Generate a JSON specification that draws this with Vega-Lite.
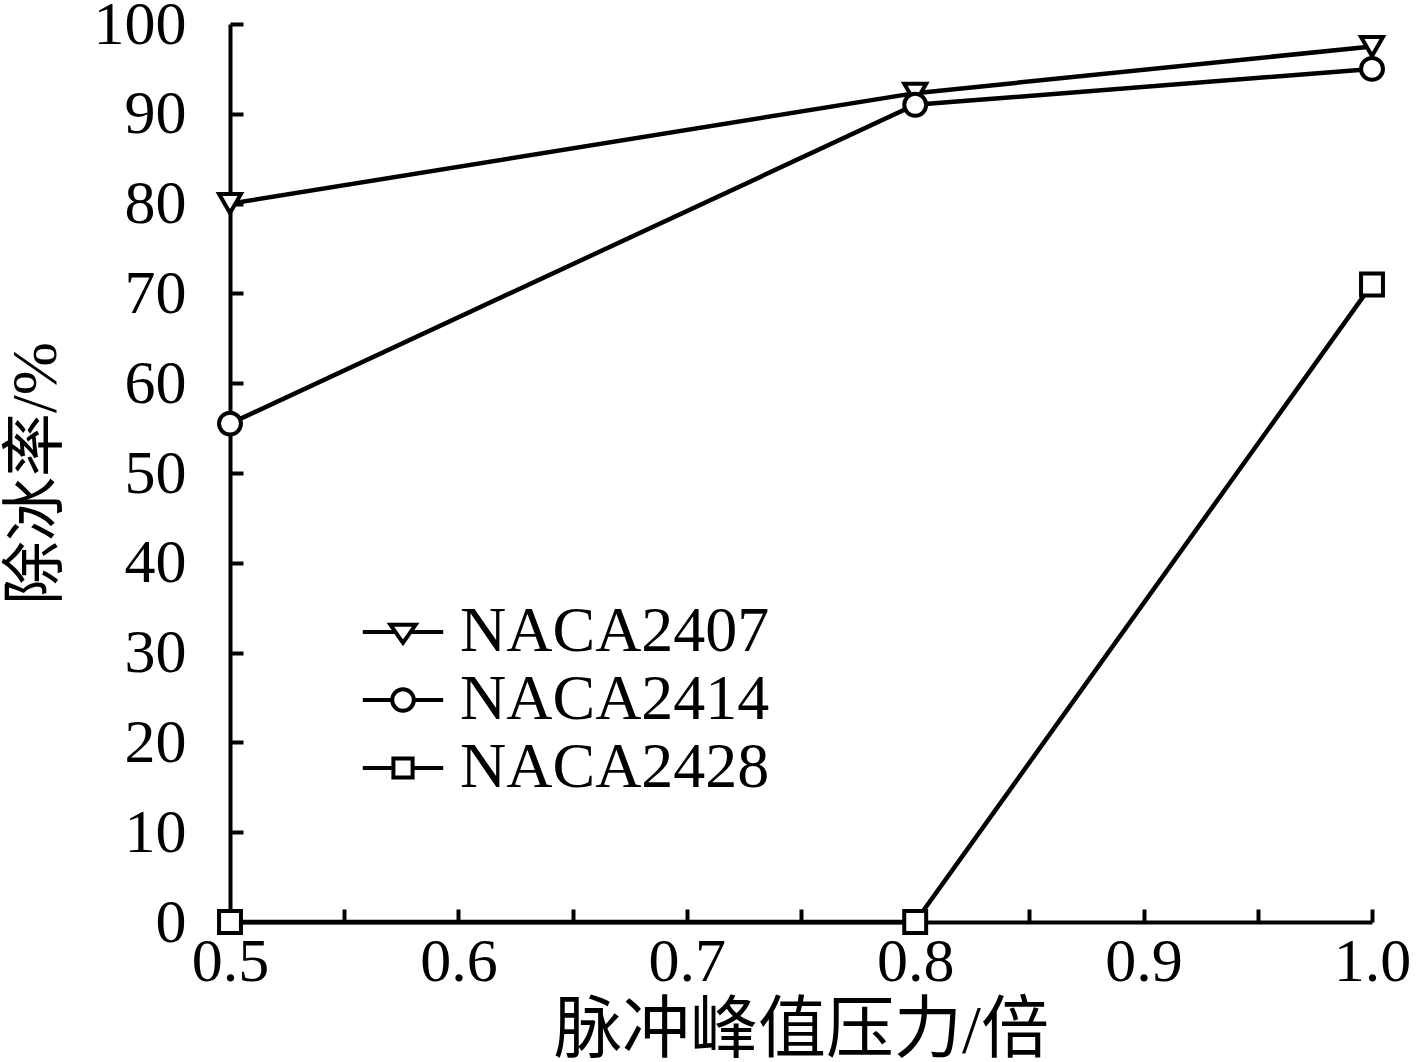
{
  "$schema": "https://vega.github.io/schema/vega-lite/v6.json",
  "autosize": "none",
  "width": 1142,
  "height": 898,
  "padding": {"left": 230, "top": 24, "right": 45, "bottom": 140},
  "background": "white",
  "config": {
    "view": {"stroke": null},
    "font": "Liberation Serif",
    "axis": {
      "domainColor": "black", "domainWidth": 4, "tickColor": "black", "tickWidth": 4,
      "tickSize": -13, "grid": false, "labelColor": "black", "titleColor": "black",
      "labelFont": "Liberation Serif", "labelFontSize": 62, "titleFont": "Liberation Serif, Noto Sans CJK SC",
      "titleFontWeight": "normal", "titleFontSize": 64, "labelFlush": false, "labelOverlap": false, "labelBound": false
    }
  },
  "data": {"values": [
    {"x": 0.5, "y": 80, "series": "NACA2407"},
    {"x": 0.8, "y": 92.3, "series": "NACA2407"},
    {"x": 1.0, "y": 97.5, "series": "NACA2407"},
    {"x": 0.5, "y": 55.5, "series": "NACA2414"},
    {"x": 0.8, "y": 91, "series": "NACA2414"},
    {"x": 1.0, "y": 95, "series": "NACA2414"},
    {"x": 0.5, "y": 0, "series": "NACA2428"},
    {"x": 0.8, "y": 0, "series": "NACA2428"},
    {"x": 1.0, "y": 71, "series": "NACA2428"}
  ]},
  "encoding": {
    "x": {"field": "x", "type": "quantitative", "scale": {"domain": [0.5, 1.0], "nice": false, "zero": false},
      "axis": {"title": "脉冲峰值压力/倍", "values": [0.5,0.55,0.6,0.65,0.7,0.75,0.8,0.85,0.9,0.95,1.0],
        "labelExpr": "abs(datum.value*10 - round(datum.value*10)) < 0.01 ? format(datum.value, '.1f') : ''",
        "labelPadding": 22, "titlePadding": 5, "titleFontSize": 68}},
    "y": {"field": "y", "type": "quantitative", "scale": {"domain": [0, 100], "nice": false},
      "axis": {"title": "除冰率/%", "values": [0,10,20,30,40,50,60,70,80,90,100], "labelPadding": 57,
        "titleX": -194, "titleY": 449, "titleAngle": -90, "titleBaseline": "middle", "titleAlign": "center"}}
  },
  "layer": [
    {"mark": {"type": "line", "color": "black", "strokeWidth": 4.5}, "encoding": {"detail": {"field": "series"}}},
    {"mark": {"type": "point", "filled": true, "fill": "white", "stroke": "black", "strokeWidth": 4, "size": 480, "opacity": 1},
      "encoding": {"shape": {"field": "series", "type": "nominal", "legend": null,
        "scale": {"domain": ["NACA2407", "NACA2414", "NACA2428"], "range": ["triangle-down", "circle", "square"]}}}},
    {"transform": [{"filter": "false"}],
      "mark": {"type": "point", "filled": false, "color": "black", "strokeWidth": 4, "size": 576, "opacity": 1},
      "encoding": {"shape": {"field": "series", "type": "nominal",
        "scale": {"domain": ["NACA2407", "NACA2414", "NACA2428"], "range": [
          "M-3.35,0L-0.6,0M0.6,0L3.35,0M-1.05,-0.6L1.05,-0.6L0,0.9Z",
          "M-3.35,0L-0.9,0M0.9,0L3.35,0M0.9,0A0.9,0.9 0 1,1 -0.9,0A0.9,0.9 0 1,1 0.9,0Z",
          "M-3.35,0L-0.8,0M0.8,0L3.35,0M-0.8,-0.8L0.8,-0.8L0.8,0.8L-0.8,0.8Z"]},
        "legend": {"title": null, "orient": "none", "legendX": 141, "legendY": 576,
          "symbolOpacity": 1, "symbolStrokeColor": "black", "symbolStrokeWidth": 4,
          "symbolSize": 576, "labelFont": "Liberation Serif", "labelFontSize": 64, "labelColor": "black",
          "labelOffset": 25, "rowPadding": 4, "labelLimit": 1000}}}}
  ],
  "resolve": {"scale": {"shape": "independent"}, "legend": {"shape": "independent"}}
}
